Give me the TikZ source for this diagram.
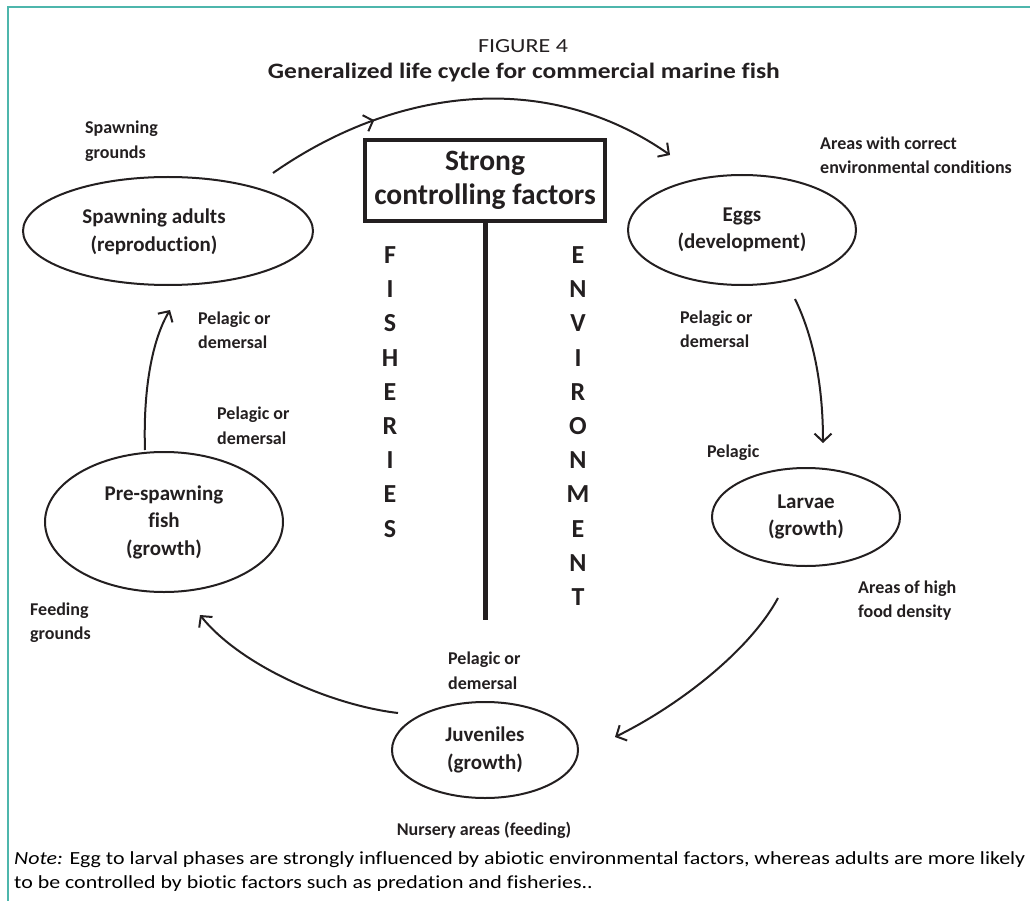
\documentclass[tikz,border=0pt]{standalone}
\usepackage{fontspec}
\setmainfont{Carlito}[Ligatures={NoCommon}]
\usepackage{graphicx}
\usetikzlibrary{shapes.geometric,arrows.meta,decorations.markings}
\definecolor{framecol}{HTML}{4DB6AC}
\definecolor{ink}{HTML}{231F20}
\newsavebox\noteboxA
\newsavebox\noteboxB
\begin{document}
\sbox\noteboxA{\fontsize{18.5}{22}\selectfont\textit{Note:} Egg to larval phases are strongly influenced by abiotic environmental factors, whereas adults are more likely}%
\sbox\noteboxB{\fontsize{18.5}{22}\selectfont to be controlled by biotic factors such as predation and fisheries..}%
\begin{tikzpicture}[x=1pt,y=-1pt,color=ink,
  lbl/.style={font=\bfseries\fontsize{18}{24.5}\selectfont, align=left, anchor=west, inner sep=0pt},
  stage/.style={draw, ellipse, line width=2pt, inner sep=0pt, font=\bfseries\fontsize{21}{27.5}\selectfont, align=center},
  stagetext/.style={inner sep=0pt, font=\bfseries\fontsize{21}{27.5}\selectfont, align=center},
  letters/.style={inner sep=0pt, anchor=north, font=\bfseries\fontsize{26}{34.2}\selectfont, align=center},
  tip/.style={-{Straight Barb[length=8pt,width=17pt]}},
  conn/.style={line width=2pt, tip},
  midarrow/.style={postaction={decorate}, decoration={markings, mark=at position 0.27 with {\arrow[line width=2pt]{Straight Barb[length=8pt,width=17pt]}}}}
]
\useasboundingbox (0,0) rectangle (1030,901);
% frame
\draw[framecol, line width=2pt] (1030,7) -- (8,7) -- (8,901);

% titles
\node[inner sep=0pt] (fig) at (523,46) {\resizebox{90pt}{\height}{\fontsize{20}{24}\selectfont FIGURE 4}};
\node[inner sep=0pt] (title) at (524,73) {\resizebox{512pt}{\height}{\bfseries\fontsize{22}{26}\selectfont Generalized life cycle for commercial marine fish}};

% central box and line
\node[draw, line width=4pt, minimum width=240pt, minimum height=81pt, inner sep=0pt,
      font=\bfseries\fontsize{29.5}{34}\selectfont, align=center] (box) at (485,180.5) {Strong\\controlling factors};
\coordinate (lineend) at (485,620);
\draw[line width=5pt] (box.south) -- (lineend);
\node[letters] (fish) at (390,246.5) {F\\I\\S\\H\\E\\R\\I\\E\\S};
\node[letters] (env) at (578,246.5) {E\\N\\V\\I\\R\\O\\N\\M\\E\\N\\T};

% stages
\node[stage, minimum width=290pt, minimum height=108pt] (sa) at (168,231) {};
\node[stagetext] (satext) at (154,232) {Spawning adults\\(reproduction)};
\node[stage, minimum width=228pt, minimum height=110pt] (eggs) at (742,230) {Eggs\\(development)};
\node[stage, minimum width=188pt, minimum height=98pt] (larvae) at (806,517) {Larvae\\(growth)};
\node[stage, minimum width=186pt, minimum height=96pt] (juv) at (485,750) {Juveniles\\(growth)};
\node[stage, minimum width=238pt, minimum height=140pt] (pre) at (164,522) {Pre-spawning\\fish\\(growth)};

% labels
\node[lbl] (l1) at (85,141) {Spawning\\grounds};
\node[lbl] (l2) at (820,155.5) {Areas with correct\\environmental conditions};
\node[lbl] (l3) at (680,329.5) {Pelagic or\\demersal};
\node[lbl] (l4) at (707,453) {Pelagic};
\node[lbl] (l5) at (858,600.5) {Areas of high\\food density};
\node[lbl] (l6) at (448,670.5) {Pelagic or\\demersal};
\node[inner sep=0pt, font=\bfseries\fontsize{18}{22}\selectfont] (l7) at (484,830) {Nursery areas (feeding)};
\node[lbl] (l8) at (30,622.5) {Feeding\\grounds};
\node[lbl] (l9) at (217,425.5) {Pelagic or\\demersal};
\node[lbl] (l10) at (198,330) {Pelagic or\\demersal};

% connector end points
\coordinate (a1s) at (273,173);
\coordinate (a1e) at (670,155);
\coordinate (a2s) at (795,299);
\coordinate (a2e) at (823,443);
\coordinate (a3s) at (778,598);
\coordinate (a3e) at (615,737);
\coordinate (a4s) at (398,713);
\coordinate (a4e) at (200,615);
\coordinate (a5s) at (145,450);
\coordinate (a5e) at (170,310);

\draw[conn, midarrow] (a1s) .. controls (396,87) and (547,69) .. (a1e);
\draw[conn] (a2s) .. controls (815,340) and (823,390) .. (a2e);
\draw[conn] (a3s) .. controls (750,650) and (680,705) .. (a3e);
\draw[conn] (a4s) .. controls (330,705) and (240,665) .. (a4e);
\draw[conn] (a5s) .. controls (143,390) and (152,340) .. (a5e);

% note
\pgfmathsetmacro\nf{1011/\the\wd\noteboxA}
\node[anchor=west, inner sep=0pt] (note1) at (14,860) {\scalebox{\nf}[1]{\usebox\noteboxA}};
\node[anchor=west, inner sep=0pt] (note2) at (14,884) {\scalebox{\nf}[1]{\usebox\noteboxB}};
\end{tikzpicture}
\end{document}
